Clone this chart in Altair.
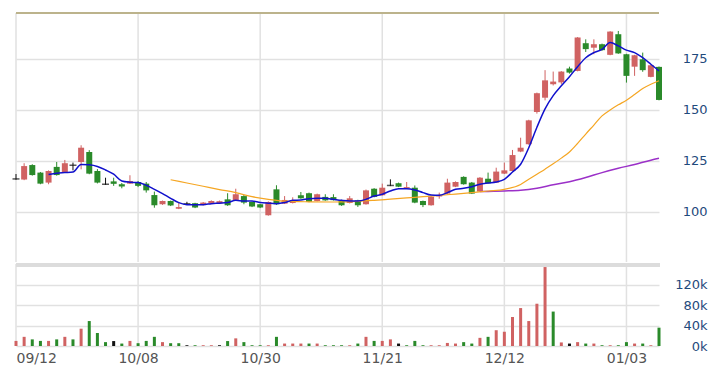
import altair as alt
import pandas as pd

# ---------------- data ----------------
tick_idx = [0, 15, 30, 45, 60, 75]
tick_labels = ["09/12", "10/08", "10/30", "11/21", "12/12", "01/03"]

open_ = [116.2, 115.9, 123.0, 119.3, 114.4, 122.1, 119.6, 122.9, 124.5, 129.4,
         120.1, 113.6, 115.0, 113.6, 113.9, 114.7, 113.9, 108.3, 103.8, 105.4,
         101.6, 104.0, 104.3, 103.4, 104.1, 104.2, 106.2, 105.9, 107.8, 104.9,
         103.8, 98.4, 111.1, 104.1, 104.4, 108.2, 109.2, 105.4, 107.4, 107.3,
         105.7, 104.4, 105.7, 103.8, 111.4, 108.2, 113.0, 114.1, 111.6, 111.9,
         105.4, 103.3, 107.6, 109.0, 112.4, 117.2, 114.4, 110.0, 116.3, 114.4,
         118.8, 120.1, 129.6, 133.2, 149.0, 156.0, 162.6, 163.5, 170.3, 169.1,
         182.7, 180.5, 182.2, 177.0, 187.1, 177.3, 171.2, 174.8, 166.2, 171.1]
close = [116.2, 122.5, 118.1, 113.9, 120.1, 118.1, 123.9, 122.9, 131.5, 118.8,
         114.4, 113.6, 113.8, 112.5, 115.2, 112.8, 110.6, 103.3, 105.4, 103.2,
         102.4, 104.0, 102.2, 104.6, 105.4, 105.3, 103.3, 108.7, 104.6, 102.7,
         102.2, 104.9, 103.8, 105.9, 105.7, 106.7, 105.0, 108.7, 105.7, 105.8,
         103.3, 106.7, 103.3, 110.6, 107.4, 111.9, 113.0, 112.4, 112.2, 104.6,
         103.4, 107.5, 108.2, 114.4, 114.7, 113.6, 109.0, 116.8, 114.1, 119.8,
         120.4, 127.9, 131.5, 144.9, 158.2, 164.5, 163.9, 168.8, 168.3, 185.5,
         179.8, 182.2, 179.3, 188.4, 177.7, 166.7, 176.8, 169.5, 171.9, 154.9]
high = [118.6, 123.9, 123.4, 119.6, 120.4, 124.5, 125.5, 124.2, 132.7, 130.3,
        121.0, 116.8, 116.8, 114.2, 118.0, 115.2, 114.7, 110.0, 105.6, 105.6,
        104.9, 105.0, 104.5, 104.9, 105.7, 105.6, 109.2, 111.4, 108.3, 105.2,
        104.0, 105.2, 113.1, 107.8, 107.2, 109.8, 109.5, 109.0, 108.7, 108.7,
        106.0, 107.8, 106.0, 111.0, 111.7, 113.9, 116.0, 114.4, 114.7, 113.0,
        105.6, 107.8, 109.5, 116.3, 115.0, 117.5, 114.7, 117.1, 119.3, 121.7,
        124.2, 130.4, 136.4, 145.2, 158.5, 169.5, 168.8, 169.0, 171.2, 185.7,
        184.6, 184.6, 182.5, 188.6, 188.7, 177.5, 177.0, 178.1, 172.1, 171.3]
low = [115.8, 115.6, 117.8, 113.6, 113.6, 117.8, 119.4, 120.4, 120.9, 118.5,
       114.0, 113.3, 112.8, 111.6, 113.7, 112.2, 109.5, 102.1, 103.5, 102.9,
       101.4, 103.6, 101.9, 103.2, 103.9, 104.0, 103.0, 105.5, 103.8, 102.4,
       101.9, 98.2, 103.5, 103.9, 104.2, 106.5, 104.8, 105.2, 105.5, 105.6,
       103.0, 104.2, 102.5, 103.6, 107.2, 108.0, 112.7, 112.2, 111.4, 104.3,
       102.4, 103.1, 106.5, 108.7, 112.2, 113.4, 108.8, 109.8, 113.9, 114.2,
       118.6, 119.9, 129.3, 133.0, 148.2, 154.7, 162.0, 162.6, 167.8, 168.9,
       178.4, 177.3, 179.0, 176.8, 177.5, 163.4, 166.7, 168.7, 166.0, 154.7]

volume_k = [10, 18, 13, 10, 10, 13, 18, 13, 34, 49,
            25.5, 7.6, 9.7, 4.8, 10, 5.5, 10, 18, 7.6, 5.5,
            5.5, 1.5, 1.5, 1.5, 1.5, 1.5, 9.7, 15, 7.6, 1.5,
            1.5, 1.5, 18, 4.8, 4.8, 4.8, 4.8, 4.8, 1.5, 1.5,
            1.5, 1.5, 4.8, 18, 10, 10, 13, 4.8, 1.5, 10,
            1.5, 1.5, 1.5, 6, 4.8, 7.6, 4.8, 16, 18, 31,
            28, 57, 74.5, 49, 83, 155, 67.6, 7, 4.8, 7.6,
            4.8, 4.8, 1.5, 1.5, 1.5, 7.6, 4.8, 4.8, 1.5, 36]
volume_dir = ["up", "up", "down", "down", "up", "down", "up", "down", "up", "down",
              "down", "down", "flat", "down", "up", "down", "down", "down", "up", "down",
              "down", "flat", "down", "up", "up", "flat", "down", "up", "down", "down",
              "down", "up", "down", "up", "up", "up", "down", "up", "down", "down",
              "down", "up", "down", "up", "down", "up", "up", "flat", "down", "down",
              "down", "up", "up", "up", "up", "down", "down", "up", "down", "up",
              "up", "up", "up", "up", "up", "up", "down", "up", "flat", "up",
              "down", "up", "down", "up", "down", "down", "up", "down", "up", "down"]

ma_blue_idx = list(range(4, 80))
ma_blue = [118.4, 119.0, 119.3, 119.6, 123.3, 123.1, 122.3, 120.6, 118.5, 115.2,
           114.6, 114.4, 113.1, 111.1, 109.0, 106.7, 104.6, 103.6, 103.6, 103.6,
           104.1, 104.3, 104.6, 105.7, 105.4, 105.4, 104.6, 104.3, 104.1, 104.6,
           105.7, 105.9, 106.5, 106.7, 106.7, 106.2, 105.7, 105.4, 105.4, 106.2,
           107.8, 108.7, 110.3, 111.4, 111.4, 110.8, 109.5, 108.3, 108.2, 109.5,
           111.1, 111.6, 112.4, 113.6, 114.2, 114.7, 116.0, 119.6, 123.4, 131.5,
           141.5, 150.5, 157.0, 161.8, 166.3, 171.2, 175.6, 178.1, 179.7, 183.0,
           181.4, 179.3, 178.1, 175.6, 172.4, 169.1]

ma_orange_idx = [19, 21, 23, 25, 27, 29, 31, 33, 36, 39, 42, 44, 46, 48, 50, 52, 54,
                 56, 58, 60, 62, 63, 64, 65, 66, 67, 68, 69, 70, 71, 72, 73, 74, 75,
                 76, 77, 78, 79]
ma_orange = [115.8, 114.2, 112.6, 111.0, 109.5, 107.5, 106.2, 105.3, 105.0, 104.9,
             105.2, 105.7, 106.3, 106.9, 107.5, 108.1, 108.8, 109.5, 110.3, 111.1,
             113.5, 116.0, 118.5, 121.0, 123.6, 126.4, 129.4, 133.6, 138.2, 142.6,
             147.1, 150.0, 152.5, 154.8, 157.6, 160.5, 162.6, 164.3]

ma_purple_idx = [57, 58, 60, 62, 64, 66, 68, 70, 72, 74, 76, 78, 79]
ma_purple = [110.0, 110.1, 110.3, 110.6, 111.6, 113.3, 114.8, 116.9, 119.3, 121.4,
             123.3, 125.4, 126.3]

# ---------------- tables ----------------
n = len(open_)
candles = pd.DataFrame({"i": list(range(n)), "open": open_, "close": close,
                        "high": high, "low": low})
candles["cdir"] = ["up" if c > o else ("down" if c < o else "flat")
                   for o, c in zip(open_, close)]
vol = pd.DataFrame({"i": list(range(n)), "vol": [v * 1000 for v in volume_k],
                    "vdir": volume_dir})
blue = pd.DataFrame({"i": ma_blue_idx, "v": ma_blue})
orange = pd.DataFrame({"i": ma_orange_idx, "v": ma_orange})
purple = pd.DataFrame({"i": ma_purple_idx, "v": ma_purple})
ticks = pd.DataFrame({"i": tick_idx, "label": tick_labels})

W = 643
H_MAIN = 249
H_VOL = 82
GRID = "#e1e1e1"
RED = "#d06262"
GREEN = "#2a8a2a"

xscale = alt.Scale(domain=[0, 79], nice=False, zero=False, padding=0)
label_arr = "[" + ",".join("'" + t + "'" for t in tick_labels) + "]"

x_main = alt.X("i:Q", scale=xscale, axis=None)
x_vol = alt.X("i:Q", scale=xscale,
              axis=alt.Axis(values=tick_idx, ticks=False, domain=False, title=None,
                            grid=False,
                            labelExpr=label_arr + "[round(datum.value/15)]",
                            labelFlush=True, labelFontSize=14, labelColor="#555555",
                            labelPadding=5, labelFont="DejaVu Sans"))

yscale = alt.Scale(domain=[75.5, 197.5], nice=False, zero=False, padding=0)
yaxis = alt.Axis(orient="right", values=[100, 125, 150, 175], ticks=False, domain=False,
                 title=None, grid=True, gridColor=GRID, gridWidth=1.5,
                 labelAlign="right", labelPadding=48, labelFontSize=13,
                 labelColor="#1f4a7c", labelFont="DejaVu Sans")

cscale = alt.Scale(domain=["up", "down", "flat"], range=[RED, GREEN, "#111111"])

vgrid_main = alt.Chart(ticks).mark_rule(color=GRID, strokeWidth=1.5).encode(
    x=x_main, y=alt.value(0), y2=alt.value(H_MAIN))

wick = alt.Chart(candles).mark_rule(strokeWidth=1).encode(
    x=x_main,
    y=alt.Y("low:Q", scale=yscale, axis=yaxis),
    y2="high:Q",
    color=alt.Color("cdir:N", scale=cscale, legend=None),
)
body = alt.Chart(candles).transform_filter("datum.cdir != 'flat'").mark_bar(size=6).encode(
    x=x_main,
    y=alt.Y("open:Q", scale=yscale, axis=yaxis),
    y2="close:Q",
    color=alt.Color("cdir:N", scale=cscale, legend=None),
)
doji = alt.Chart(candles).transform_filter("datum.cdir == 'flat'").mark_tick(
    orient="horizontal", size=7, thickness=1.5, color="#111111").encode(
    x=x_main,
    y=alt.Y("close:Q", scale=yscale, axis=yaxis),
)

def ma_line(df, color, sw):
    return alt.Chart(df).mark_line(color=color, strokeWidth=sw, interpolate="monotone").encode(
        x=x_main, y=alt.Y("v:Q", scale=yscale, axis=yaxis))

top_border = alt.Chart(candles).mark_rule(color="#bcb38c", strokeWidth=2).encode(
    x=alt.value(0), x2=alt.value(W), y=alt.value(0))

main = alt.layer(
    vgrid_main, wick, body, doji,
    ma_line(purple, "#9b30c8", 1.5),
    ma_line(orange, "#f5a623", 1.2),
    ma_line(blue, "#1010cc", 1.5),
    top_border,
).properties(width=W, height=H_MAIN)

vscale = alt.Scale(domain=[0, 161000], nice=False, padding=0)
vaxis = alt.Axis(orient="right", values=[0, 40000, 80000, 120000], ticks=False,
                 domain=False, title=None, grid=True, gridColor=GRID, gridWidth=1.5,
                 labelExpr="(datum.value/1000) + 'k'", labelAlign="right",
                 labelPadding=48, labelFontSize=13, labelColor="#1f4a7c",
                 labelFont="DejaVu Sans")
vscale_c = alt.Scale(domain=["up", "down", "flat"], range=[RED, GREEN, "#c9c9c9"])

vgrid_vol = alt.Chart(ticks).mark_rule(color=GRID, strokeWidth=1.5).encode(
    x=x_vol, y=alt.value(0), y2=alt.value(H_VOL))
vbars = alt.Chart(vol).mark_bar(size=3).encode(
    x=x_vol,
    y=alt.Y("vol:Q", scale=vscale, axis=vaxis),
    color=alt.Color("vdir:N", scale=vscale_c, legend=None),
)
sep = alt.Chart(vol).mark_rule(color="#dcdcdc", strokeWidth=3).encode(
    x=alt.value(0), x2=alt.value(W + 1), y=alt.value(1))

volume = alt.layer(vgrid_vol, vbars, sep).properties(width=W, height=H_VOL)

chart = alt.vconcat(main, volume, spacing=0).properties(
    padding={"left": 4, "top": 4, "right": 5, "bottom": 5},
    background="white",
).configure_view(stroke=None)

chart.save("out.html", embed_options={"renderer": "svg", "actions": False})
